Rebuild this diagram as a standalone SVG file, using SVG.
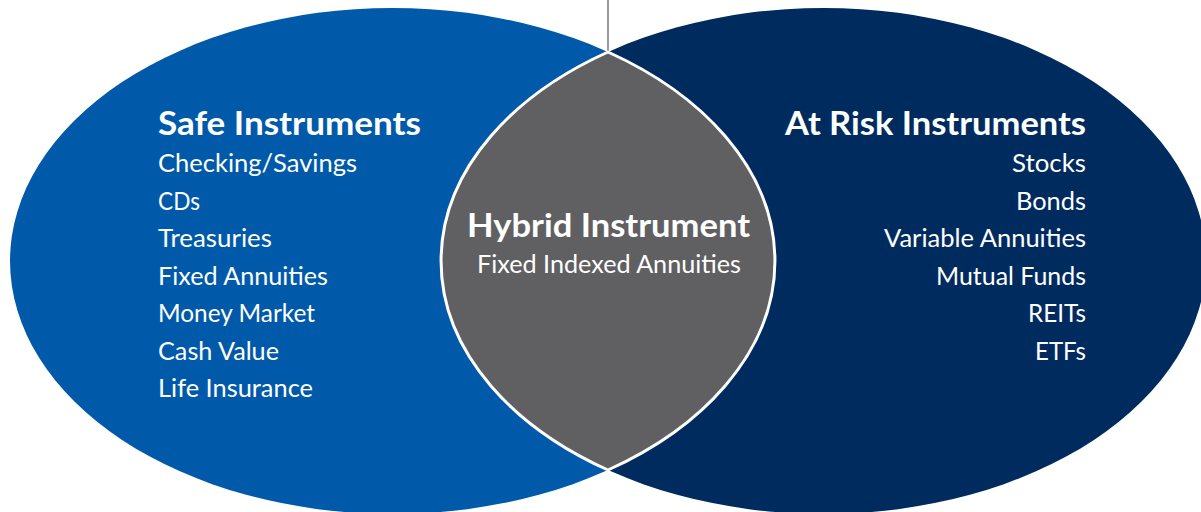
<svg xmlns="http://www.w3.org/2000/svg" width="1201" height="512" viewBox="0 0 1201 512">
  <style>
    text { fill: #ffffff; font-family: "Lato", "Liberation Sans", sans-serif; }
    .head { font-weight: 700; font-size: 32px; }
    .item { font-weight: 400; font-size: 25.5px; }
  </style>
  <rect width="1201" height="512" fill="#ffffff"/>

  <!-- connector: vertical rule down to the top of the overlap -->
  <g id="connectors">
    <line x1="608" y1="0" x2="608" y2="53" stroke="#7a7a7a" stroke-width="1.5"/>
  </g>

  <!-- left set -->
  <g id="safe">
    <ellipse cx="392.5" cy="261" rx="382.5" ry="253" fill="#005AA9"/>
  </g>

  <!-- right set -->
  <g id="at-risk">
    <ellipse cx="823.5" cy="261" rx="382.5" ry="253" fill="#002B5F"/>
  </g>

  <!-- overlap lens -->
  <g id="hybrid">
    <path d="M608,52 A382.5,253 0 0,1 608,470 A382.5,253 0 0,1 608,52 Z" fill="#606062" stroke="#ffffff" stroke-width="3"/>
    <text class="head" x="608.5" y="237" text-anchor="middle" textLength="283" lengthAdjust="spacingAndGlyphs">Hybrid Instrument</text>
    <text class="item" x="609" y="273" text-anchor="middle" textLength="264" lengthAdjust="spacingAndGlyphs">Fixed Indexed Annuities</text>
  </g>

  <g id="safe-labels">
    <text class="head" x="158" y="135" textLength="263" lengthAdjust="spacingAndGlyphs">Safe Instruments</text>
    <text class="item" x="158" y="172" textLength="199" lengthAdjust="spacingAndGlyphs">Checking/Savings</text>
    <text class="item" x="158" y="209.5" textLength="42" lengthAdjust="spacingAndGlyphs">CDs</text>
    <text class="item" x="158" y="247" textLength="114" lengthAdjust="spacingAndGlyphs">Treasuries</text>
    <text class="item" x="158" y="284.5" textLength="170" lengthAdjust="spacingAndGlyphs">Fixed Annuities</text>
    <text class="item" x="158" y="322" textLength="157" lengthAdjust="spacingAndGlyphs">Money Market</text>
    <text class="item" x="158" y="359.5" textLength="121" lengthAdjust="spacingAndGlyphs">Cash Value</text>
    <text class="item" x="158" y="397" textLength="155" lengthAdjust="spacingAndGlyphs">Life Insurance</text>
  </g>

  <g id="at-risk-labels">
    <text class="head" x="1086" y="135" text-anchor="end" textLength="301" lengthAdjust="spacingAndGlyphs">At Risk Instruments</text>
    <text class="item" x="1086" y="172" text-anchor="end" textLength="74" lengthAdjust="spacingAndGlyphs">Stocks</text>
    <text class="item" x="1086" y="209.5" text-anchor="end" textLength="70" lengthAdjust="spacingAndGlyphs">Bonds</text>
    <text class="item" x="1086" y="247" text-anchor="end" textLength="202" lengthAdjust="spacingAndGlyphs">Variable Annuities</text>
    <text class="item" x="1086" y="284.5" text-anchor="end" textLength="150" lengthAdjust="spacingAndGlyphs">Mutual Funds</text>
    <text class="item" x="1086" y="322" text-anchor="end" textLength="58" lengthAdjust="spacingAndGlyphs">REITs</text>
    <text class="item" x="1086" y="359.5" text-anchor="end" textLength="51" lengthAdjust="spacingAndGlyphs">ETFs</text>
  </g>
</svg>
